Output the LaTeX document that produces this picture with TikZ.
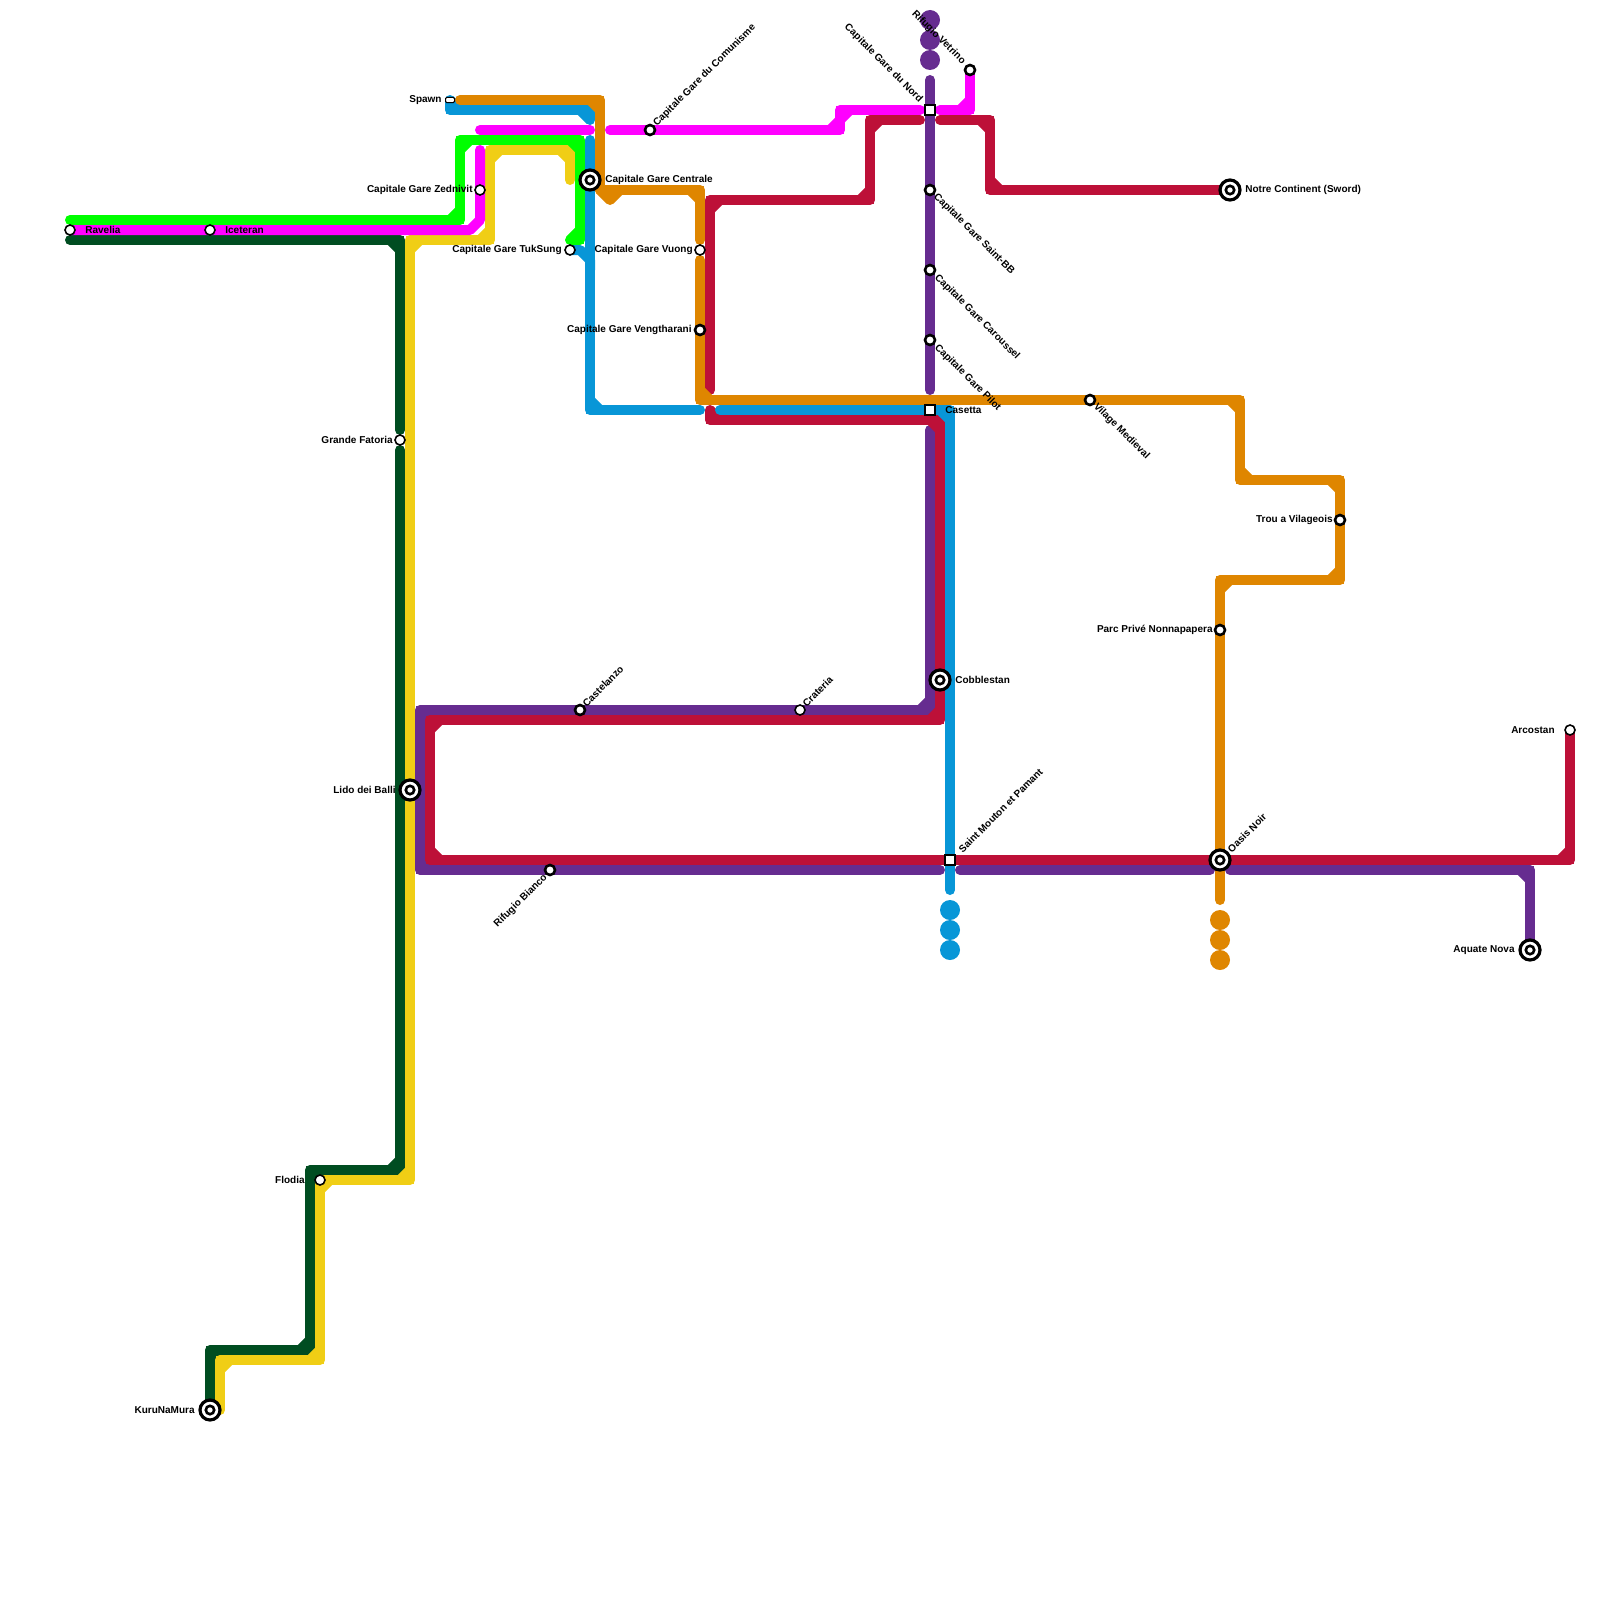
\documentclass[tikz,border=0pt]{standalone}
\usepackage{fontspec}
\setmainfont{Liberation Sans}
\usetikzlibrary{calc}
\definecolor{lineorange}{HTML}{DF8600}
\definecolor{lineblue}{HTML}{0896D7}
\definecolor{linecrimson}{HTML}{BD1038}
\definecolor{linepurple}{HTML}{662C90}
\definecolor{lineyellow}{HTML}{F0CE15}
\definecolor{linedark}{HTML}{004D21}
\definecolor{linegreen}{HTML}{00FF00}
\definecolor{linemagenta}{HTML}{FF00FF}
\pgfdeclarelayer{lines}
\pgfsetlayers{lines,main}
\tikzset{
  metro/.style={line width=5pt, line cap=round, line join=round},
  metrocore/.style={line width=4.3pt, line cap=butt, line join=miter},
  metrocut/.style={line width=5pt, line cap=butt},
  stnopen/.style={circle, draw=black, fill=white, line width=0.8pt, minimum size=5pt, inner sep=0pt, outer sep=0pt},
  stnring/.style={circle, draw=black, fill=white, line width=1.3pt, minimum size=5pt, inner sep=0pt, outer sep=0pt},
  stnhub/.style={circle, draw=black, fill=white, line width=1.6pt, minimum size=10pt, inner sep=0pt, outer sep=0pt},
  stndot/.style={circle, draw=black, fill=white, line width=1.3pt, minimum size=4.2pt, inner sep=0pt, outer sep=0pt},
  stnbox/.style={rectangle, draw=black, fill=white, line width=1pt, minimum size=5pt, inner sep=0pt, outer sep=0pt},
  stnspawn/.style={rectangle, rounded corners=0.6pt, draw=black, fill=white, line width=0.5pt, minimum width=4.5pt, minimum height=2.6pt, inner sep=0pt, outer sep=0pt},
  lbl/.style={inner sep=0pt, text=black, font=\fontsize{5}{6}\selectfont\bfseries},
}
% one line: colour, first point, other points
\newcommand{\metroline}[3]{%
  \draw[metro,#1] #2 \foreach \p in {#3} { -- \p };
  \draw[metrocore,#1] #2 \foreach \p in {#3} { -- \p };
  \global\let\mlprev\relax
  \global\let\mlpprev\relax
  \foreach \p [count=\i] in {#2,#3} {%
    \ifnum\i>2
      \edef\mlcut{\noexpand\draw[metrocut,#1] ($\mlprev!5pt!\mlpprev$) -- ($\mlprev!5pt!\p$);}%
      \mlcut
    \fi
    \global\let\mlpprev\mlprev
    \global\let\mlprev\p
  }%
}

\begin{document}
\begin{tikzpicture}[x=0.5pt, y=-0.5pt]
  \useasboundingbox (0,0) rectangle (1600,1600);
  % stations
  \node[stnopen] (ravelia) at (70,230) {};
  \node[stnopen] (iceteran) at (210,230) {};
  \node[stnspawn] (spawn) at (450,100) {};
  \node[stnopen] (zednivit) at (480,190) {};
  \node[stnhub] (centrale) at (590,180) {};
  \node[stnopen] (tuksung) at (570,250) {};
  \node[stnopen] (vuong) at (700,250) {};
  \node[stnring] (vengtharani) at (700,330) {};
  \node[stnring] (comunisme) at (650,130) {};
  \node[stnbox] (nord) at (930,110) {};
  \node[stnring] (vetrino) at (970,70) {};
  \node[stnring] (saintbb) at (930,190) {};
  \node[stnring] (caroussel) at (930,270) {};
  \node[stnring] (pilot) at (930,340) {};
  \node[stnbox] (casetta) at (930,410) {};
  \node[stnring] (medieval) at (1090,400) {};
  \node[stnring] (vilageois) at (1340,520) {};
  \node[stnring] (nonnapapera) at (1220,630) {};
  \node[stnhub] (oasis) at (1220,860) {};
  \node[stnhub] (continent) at (1230,190) {};
  \node[stnhub] (cobblestan) at (940,680) {};
  \node[stnbox] (mouton) at (950,860) {};
  \node[stnring] (castelanzo) at (580,710) {};
  \node[stnopen] (crateria) at (800,710) {};
  \node[stnring] (bianco) at (550,870) {};
  \node[stnhub] (lido) at (410,790) {};
  \node[stnopen] (fatoria) at (400,440) {};
  \node[stnopen] (flodia) at (320,1180) {};
  \node[stnhub] (kuru) at (210,1410) {};
  \node[stnopen] (arcostan) at (1570,730) {};
  \node[stnhub] (aquate) at (1530,950) {};
  \foreach \n in {centrale,oasis,continent,cobblestan,lido,kuru,aquate}
    \node[stndot] (\n-dot) at (\n) {};
  % lines
  \begin{pgfonlayer}{lines}
    \metroline{linedark}{(70,240)}{(400,240),(400,430)}
    \metroline{linedark}{(400,450)}{(400,1170),(310,1170),(310,1350),(210,1350),(kuru.center)}
    \metroline{lineyellow}{(570,180)}{(570,150),(490,150),(490,240),(410,240),(410,1180),(320,1180),(320,1360),(220,1360),(220,1410)}
    \metroline{linegreen}{(70,220)}{(460,220),(460,140),(580,140),(580,240),(570,240)}
    \draw[metro,linemagenta] (ravelia.center) -- (470,230) -- (480,220) -- (480,150);
    \draw[metro,linemagenta] (480,130) -- (590,130);
    \metroline{linemagenta}{(610,130)}{(840,130),(840,110),(920,110)}
    \metroline{linemagenta}{(940,110)}{(970,110),(vetrino.center)}
    \draw[metro,linepurple] (930,80) -- (930,390);
    \metroline{linepurple}{(930,430)}{(930,710),(420,710),(420,870),(940,870)}
    \draw[metro,linepurple] (960,870) -- (1210,870);
    \metroline{linepurple}{(1230,870)}{(1530,870),(aquate.center)}
    \metroline{linecrimson}{(710,390)}{(710,200),(870,200),(870,120),(920,120)}
    \metroline{linecrimson}{(940,120)}{(990,120),(990,190),(continent.center)}
    \metroline{linecrimson}{(710,410)}{(710,420),(940,420),(940,720),(430,720),(430,860),(1570,860),(arcostan.center)}
    \metroline{lineblue}{(spawn.center)}{(450,110),(590,110),(590,120)}
    \metroline{lineblue}{(590,140)}{(590,410),(700,410)}
    \draw[metro,lineblue] (tuksung.center) -- (580,250) -- (590,260) -- (590,270);
    \metroline{lineblue}{(720,410)}{(950,410),(950,890)}
    \metroline{lineorange}{(460,100)}{(600,100),(600,190)}
    \draw[metro,lineorange] (600,190) -- (610,200) -- (620,190) -- cycle;
    \metroline{lineorange}{(620,190)}{(700,190),(700,240)}
    \metroline{lineorange}{(700,260)}{(700,400),(1240,400),(1240,480),(1340,480),(1340,580),(1220,580),(1220,900)}
    \foreach \y in {20,40,60} \fill[linepurple] (930,\y) circle (5pt);
    \foreach \y in {910,930,950} \fill[lineblue] (950,\y) circle (5pt);
    \foreach \y in {920,940,960} \fill[lineorange] (1220,\y) circle (5pt);
  \end{pgfonlayer}
  % labels
  \node[lbl, anchor=west] (ravelia-l) at (85,230) {Ravelia};
  \node[lbl, anchor=west] (iceteran-l) at (225,230) {Iceteran};
  \node[lbl, anchor=east] (spawn-l) at (442,100) {Spawn};
  \node[lbl, anchor=east] (zednivit-l) at (473,190) {Capitale Gare Zednivit};
  \node[lbl, anchor=west] (centrale-l) at (605,180) {Capitale Gare Centrale};
  \node[lbl, anchor=east] (tuksung-l) at (562,250) {Capitale Gare TukSung};
  \node[lbl, anchor=east] (vuong-l) at (693,250) {Capitale Gare Vuong};
  \node[lbl, anchor=east] (vengtharani-l) at (692,330) {Capitale Gare Vengtharani};
  \node[lbl, anchor=west, rotate=45] (comunisme-l) at (655,125) {Capitale Gare du Comunisme};
  \node[lbl, anchor=east, rotate=-45] (nord-l) at (921,101) {Capitale Gare du Nord};
  \node[lbl, anchor=east, rotate=-45] (vetrino-l) at (964,63) {Rifugio Vetrino};
  \node[lbl, anchor=west, rotate=-45] (saintbb-l) at (935,195) {Capitale Gare Saint-BB};
  \node[lbl, anchor=west, rotate=-45] (caroussel-l) at (936,276) {Capitale Gare Caroussel};
  \node[lbl, anchor=west, rotate=-45] (pilot-l) at (936,346) {Capitale Gare Pilot};
  \node[lbl, anchor=west] (casetta-l) at (945,410) {Casetta};
  \node[lbl, anchor=west, rotate=-45] (medieval-l) at (1095,405) {Vilage Medieval};
  \node[lbl, anchor=east] (vilageois-l) at (1333,520) {Trou a Vilageois};
  \node[lbl, anchor=east] (nonnapapera-l) at (1213,630) {Parc Privé Nonnapapera};
  \node[lbl, anchor=west, rotate=45] (oasis-l) at (1229,851) {Oasis Noir};
  \node[lbl, anchor=west] (continent-l) at (1245,190) {Notre Continent (Sword)};
  \node[lbl, anchor=west] (cobblestan-l) at (955,680) {Cobblestan};
  \node[lbl, anchor=west, rotate=45] (mouton-l) at (960,851) {Saint Mouton et Pamant};
  \node[lbl, anchor=west, rotate=45] (castelanzo-l) at (584,705) {Castelanzo};
  \node[lbl, anchor=west, rotate=45] (crateria-l) at (804,705) {Crateria};
  \node[lbl, anchor=east, rotate=45] (bianco-l) at (546,876) {Rifugio Bianco};
  \node[lbl, anchor=east] (lido-l) at (396,790) {Lido dei Balli};
  \node[lbl, anchor=east] (fatoria-l) at (393,440) {Grande Fatoria};
  \node[lbl, anchor=east] (flodia-l) at (305,1180) {Flodia};
  \node[lbl, anchor=east] (kuru-l) at (195,1410) {KuruNaMura};
  \node[lbl, anchor=east] (arcostan-l) at (1555,730) {Arcostan};
  \node[lbl, anchor=east] (aquate-l) at (1515,950) {Aquate Nova};
\end{tikzpicture}
\end{document}
